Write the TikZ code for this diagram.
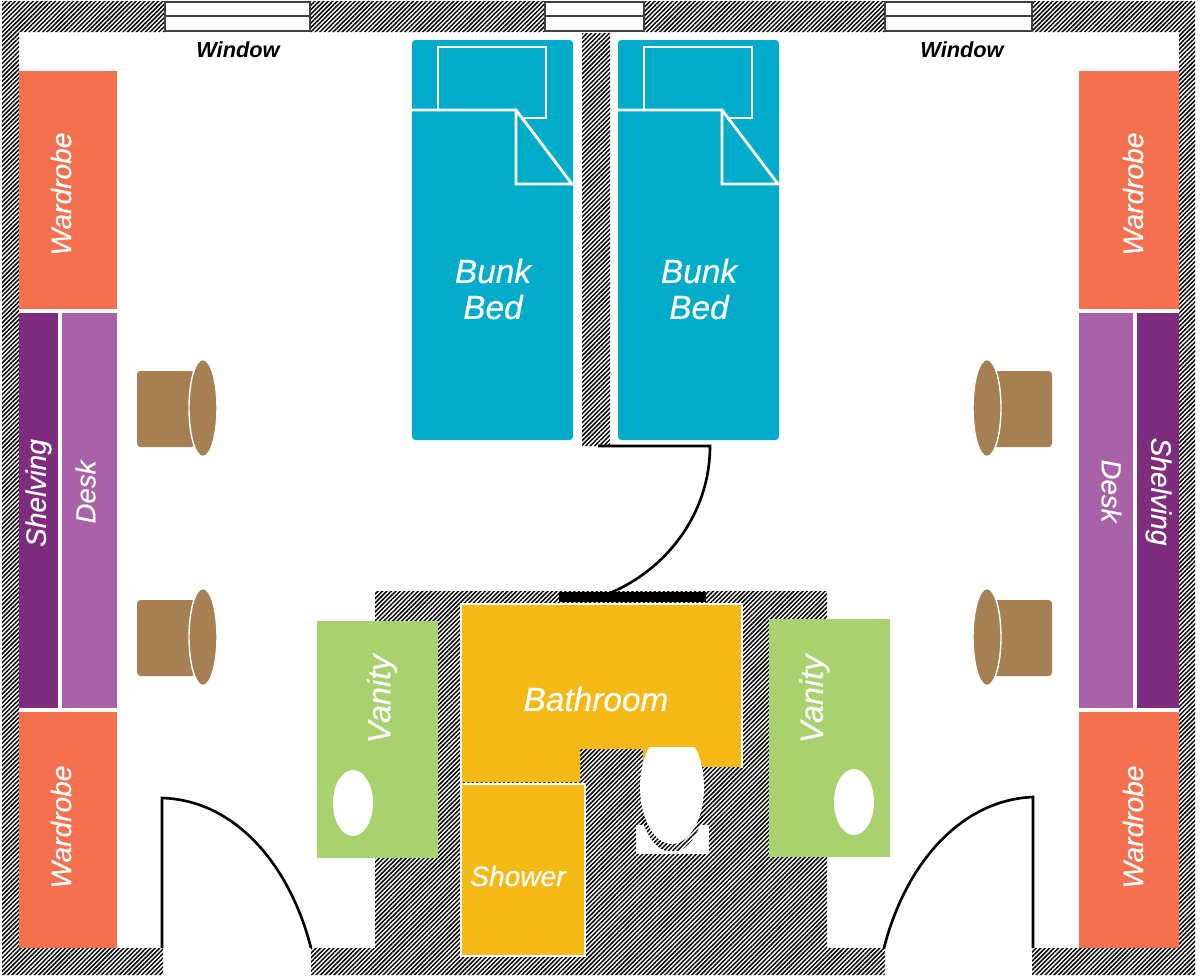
\documentclass[tikz,border=0pt]{standalone}
\usepackage{fontspec}
\setmainfont{Liberation Sans}[ItalicFeatures={FakeBold=0.35}]
\usetikzlibrary{patterns.meta}
\definecolor{wardrobecol}{HTML}{F4704F}
\definecolor{shelfcol}{HTML}{7E2C7E}
\definecolor{deskcol}{HTML}{A962A8}
\definecolor{bedcol}{HTML}{00ACC9}
\definecolor{chaircol}{HTML}{A67F53}
\definecolor{vanitycol}{HTML}{A9D26E}
\definecolor{bathcol}{HTML}{F5B915}
\tikzset{
  hatched/.style={pattern={Lines[angle=45,distance=1.8pt,line width=0.85pt]},pattern color=black},
  roomlabel/.style={text=white,font=\itshape\fontsize{#1}{#1}\selectfont,align=center,inner sep=0pt},
  swing/.style={line width=1.5pt,black}
}
\begin{document}
\begin{tikzpicture}[x=0.02cm,y=-0.02cm]
  \useasboundingbox (0,0) rectangle (1200,978);
  \fill[white] (0,0) rectangle (1200,978);
  % walls
  \path[hatched] (2,1) rectangle (1195,32) (2,32) rectangle (19,975) (1179,32) rectangle (1195,975)
    (2,948) rectangle (163,975) (311,948) rectangle (885,975) (1032,948) rectangle (1195,975)
    (375,591) rectangle (827,948) (582,32) rectangle (610,446);
  \foreach \xa/\xb in {165/310,545/644,885/1032} {
    \fill[white] (\xa,0) rectangle (\xb,33);
    \draw[line width=0.7pt,black!75] (\xa,2) rectangle (\xb,31) (\xa,16) -- (\xb,16);
  }
  \foreach \x/\name in {238/windowa,962/windowb}
    \node[text=black,font=\itshape\bfseries\fontsize{12.4}{12.4}\selectfont,inner sep=0pt] (\name) at (\x,50) {Window};
  % furniture along the side walls
  \foreach \xa/\xb/\ya/\yb/\col in {
      19/117/71/309/wardrobecol,19/117/712/948/wardrobecol,
      1079/1179/71/309/wardrobecol,1079/1179/712/948/wardrobecol,
      19/58/313/708/shelfcol,62/117/313/708/deskcol,
      1079/1133/313/708/deskcol,1137/1179/313/708/shelfcol}
    \fill[\col] (\xa,\ya) rectangle (\xb,\yb);
  \foreach \x/\y/\ang/\size/\txt/\name in {
      61/194/90/16/Wardrobe/wardrobea,61/827/90/16/Wardrobe/wardrobeb,
      1133/194/90/16/Wardrobe/wardrobec,1133/827/90/16/Wardrobe/wardrobed,
      38.5/493/90/16/Shelving/shelvinga,85.5/492/90/15.7/Desk/deska,
      1111.5/491/-90/15.7/Desk/deskb,1158.5/491.5/-90/16/Shelving/shelvingb}
    \node[rotate=\ang,roomlabel=\size] (\name) at (\x,\y) {\txt};
  % chairs
  \foreach \y in {408,637} {
    \fill[chaircol,rounded corners=2pt] (137,\y-37) rectangle (195,\y+39);
    \fill[chaircol,draw=white,line width=0.8pt] (203,\y) ellipse (14 and 48.5);
    \fill[chaircol,rounded corners=2pt] (983,\y-37) rectangle (1052,\y+39);
    \fill[chaircol,draw=white,line width=0.8pt] (987,\y) ellipse (14 and 48.5);
  }
  % beds
  \foreach \x in {0,206} {
    \begin{scope}[xshift=\x*0.02cm]
      \fill[bedcol,rounded corners=2pt] (412,40) rectangle (573,440);
      \draw[white,line width=1.6pt] (438,110) -- (438,47) -- (546,47) -- (546,118) -- (522,118);
      \draw[white,line width=1.6pt] (412,110) -- (516,110) -- (572,184) -- (516,184) -- (516,110);
      \node[roomlabel=19] (bed\x) at (493,289) {Bunk\\[1.5pt]Bed};
    \end{scope}
  }
  % bathroom
  \fill[bathcol] (462,605) -- (741,605) -- (741,767) -- (643,767) -- (643,749) -- (580,749) -- (580,782) -- (462,782) -- cycle;
  \draw[white,line width=1.6pt] (461,783) -- (461,604) -- (742,604) -- (742,768);
  \fill[black] (559,592) rectangle (706,602);
  \fill[bathcol,draw=white,line width=1.6pt] (461,784) rectangle (585,956);
  \node[roomlabel=19] (bath) at (596,699) {Bathroom};
  \node[roomlabel=16] (shower) at (518,876) {Shower};
  % toilet
  \fill[white] (636,825) rectangle (709,854);
  \begin{scope}
    \clip (630,815) rectangle (715,850);
    \path[hatched] (672,790) ellipse (34 and 62);
  \end{scope}
  \begin{scope}
    \clip (630,747) rectangle (715,850);
    \fill[white] (672,787) ellipse (32 and 57);
  \end{scope}
  % vanities
  \fill[vanitycol] (317,621) rectangle (438,858);
  \fill[vanitycol] (769,619) rectangle (890,857);
  \fill[white] (353,803) ellipse (20 and 33);
  \fill[white] (854,802) ellipse (20 and 33);
  \node[roomlabel=18.4,rotate=90] (vanitya) at (382,699) {Vanity};
  \node[roomlabel=18.4,rotate=90] (vanityb) at (814.5,699) {Vanity};
  % doors
  \draw[swing] (162,948) -- (162,798) .. controls (235,800) and (290,865) .. (311,948);
  \draw[swing] (1033,948) -- (1033,797) .. controls (960,800) and (905,865) .. (884,948);
  \draw[swing] (598,446) -- (710,446) .. controls (710,515) and (665,570) .. (610,593);
\end{tikzpicture}
\end{document}
